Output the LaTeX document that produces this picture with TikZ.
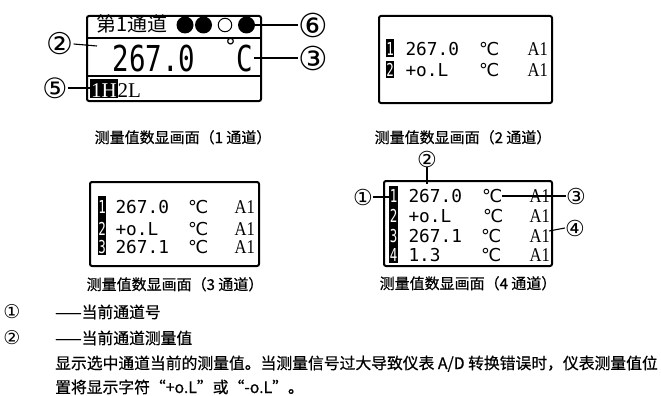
\documentclass[tikz,border=0pt]{standalone}
\usepackage{fontspec}
\newfontfamily\cjk[FakeBold=0.6]{Noto Sans CJK SC}
\newfontfamily\cjkt{Noto Sans CJK SC}
\newfontfamily\lcd{DejaVu Sans Mono}
\newfontfamily\lcdbig[FakeStretch=0.77]{DejaVu Sans Mono}
\newfontfamily\lcdinv[FakeStretch=0.7]{DejaVu Sans Mono}
\newfontfamily\lcdserif[FakeStretch=0.85]{Liberation Serif}
\newfontfamily\lserif{Liberation Serif}
\newfontfamily\dv{DejaVu Sans}
\newcommand{\fs}[1]{\fontsize{#1}{#1}\selectfont}
\begin{document}
\begin{tikzpicture}[x=1pt,y=-1pt,
  lcdbox/.style={draw, line width=2pt, rounded corners=2pt, inner sep=0, anchor=north west},
  lead/.style={line width=1.1pt},
  txt/.style={inner sep=0, anchor=base west},
  txtc/.style={inner sep=0, anchor=base},
  cnum/.style={inner sep=0, anchor=center, font=\dv\fs{#1}},
  val/.style={txt, font=\lcd\fs{17.8}},
  unit/.style={txt, font=\dv\fs{17.8}},
  chan/.style={txt, font=\lcdserif\fs{19.5}},
  inv/.style={txtc, font=\lcdinv\fs{17.8}, text=white},
  captxt/.style={txtc, font=\cjk\fs{15}},
  body/.style={txt, font=\cjk\fs{15.8}},
  dotc/.style={circle, inner sep=0, minimum size=17pt, fill=black},
]
\useasboundingbox (0,0) rectangle (661,396);

% ---------- Box 1 ----------
\node[lcdbox, minimum width=174pt, minimum height=85pt] (b1) at (86,15) {};
\draw[line width=1.5pt] (86,38) -- (260,38);
\draw[line width=1.5pt] (86,76) -- (260,76);
\node[txt, font=\cjkt\fs{20}] (b1title) at (96,32) {第1通道};
\node[dotc] (c1) at (185,25) {};
\node[dotc] (c2) at (203.5,25) {};
\node[circle, inner sep=0, minimum size=13.5pt, draw, line width=1pt] (c3) at (225,25) {};
\node[dotc] (c4) at (246.5,25) {};
\node[txt, font=\lcdbig\fs{35.7}] (b1val) at (112.5,71) {267.0};
\node[txt] (b1c) at (225,71) {\raisebox{17pt}{\dv\fs{22}°}{\lcdbig\fs{35.7}C}};
\fill (90,79) rectangle (118,97.5);
\node[txt, font=\lserif\fs{21}, text=white] (b1h) at (91,97) {1H};
\node[txt, font=\lserif\fs{21}] (b1l) at (117.5,97) {2L};

\node[cnum=30] (L2a) at (60,44) {②};
\node[cnum=33] (L3a) at (313,58) {③};
\node[cnum=28] (L5a) at (55,88) {⑤};
\node[cnum=33] (L6a) at (313,25) {⑥};
\coordinate (p2a) at (97,46);
\coordinate (p3a) at (254,58);
\coordinate (p5a) at (90,88);
\draw[lead] (L2a.east) -- (p2a);
\draw[lead] (p3a) -- (L3a.west);
\draw[lead] (L5a.east) -- (p5a);
\draw[lead] (c4.east) -- (L6a.west);
\node[captxt] (cap1) at (183,143) {测量值数显画面（1 通道）};

% ---------- Box 2 ----------
\node[lcdbox, minimum width=173pt, minimum height=87pt] (b2) at (378,15) {};
\fill (386,39) rectangle (394,57);
\fill (386,61) rectangle (394,78);
\node[inv] (b2i1) at (390,55.5) {1};
\node[inv] (b2i2) at (390,77) {2};
\node[val] (b2v1) at (405.3,55.5) {267.0};
\node[val] (b2v2) at (405.3,77) {+o.L};
\node[unit] (b2u1) at (479,55.5) {°\kern-1.5pt C};
\node[unit] (b2u2) at (479,77) {°\kern-1.5pt C};
\node[chan] (b2a1) at (527.5,55.5) {A1};
\node[chan] (b2a2) at (527.5,77) {A1};
\node[captxt] (cap2) at (463,143) {测量值数显画面（2 通道）};

% ---------- Box 3 ----------
\node[lcdbox, minimum width=169pt, minimum height=84pt] (b3) at (89,181) {};
\fill (98,196) rectangle (106,255);
\node[inv] (b3i1) at (102,213) {1};
\node[inv] (b3i2) at (102,235) {2};
\node[inv] (b3i3) at (102,253) {3};
\node[val] (b3v1) at (115.3,213) {267.0};
\node[val] (b3v2) at (115.3,235) {+o.L};
\node[val] (b3v3) at (115.3,253) {267.1};
\node[unit] (b3u1) at (188,213) {°\kern-1.5pt C};
\node[unit] (b3u2) at (188,235) {°\kern-1.5pt C};
\node[unit] (b3u3) at (188,253) {°\kern-1.5pt C};
\node[chan] (b3a1) at (234.5,213) {A1};
\node[chan] (b3a2) at (234.5,235) {A1};
\node[chan] (b3a3) at (234.5,253) {A1};
\node[captxt] (cap3) at (175,290) {测量值数显画面（3 通道）};

% ---------- Box 4 ----------
\node[lcdbox, minimum width=168pt, minimum height=85pt] (b4) at (383,180) {};
\fill (389,186) rectangle (398,263);
\node[inv] (b4i1) at (393.5,202) {1};
\node[inv] (b4i2) at (393.5,222) {2};
\node[inv] (b4i3) at (393.5,242) {3};
\node[inv] (b4i4) at (393.5,261) {4};
\node[val] (b4v1) at (408.3,202) {267.0};
\node[val] (b4v2) at (408.3,222) {+o.L};
\node[val] (b4v3) at (408.3,242) {267.1};
\node[val] (b4v4) at (408.3,261) {1.3};
\node[unit] (b4u1) at (482,202) {°\kern-1.5pt C};
\node[unit] (b4u2) at (483,222) {°\kern-1.5pt C};
\node[unit] (b4u3) at (481,242) {°\kern-1.5pt C};
\node[unit] (b4u4) at (481,261) {°\kern-1.5pt C};
\node[chan] (b4a1) at (529.5,202) {A1};
\node[chan] (b4a2) at (529.5,222) {A1};
\node[chan] (b4a3) at (529.5,242) {A1};
\node[chan] (b4a4) at (529.5,261) {A1};

\node[cnum=22] (L1b) at (363,197) {①};
\node[cnum=22] (L2b) at (427,159) {②};
\node[cnum=22] (L3b) at (576,196) {③};
\node[cnum=22] (L4b) at (575,228) {④};
\coordinate (p1b) at (389,197);
\coordinate (p2b) at (427,184);
\coordinate (p3b) at (502,196);
\coordinate (p4b) at (549,231);
\draw[lead] (L1b.east) -- (p1b);
\draw[lead] (L2b.south) -- (p2b);
\draw[lead] (p3b) -- (L3b.west);
\draw[lead] (p4b) -- (L4b.west);
\node[captxt] (cap4) at (468,289) {测量值数显画面（4 通道）};

% ---------- Legend text ----------
\node[cnum=19] (k1) at (12,312) {①};
\node[cnum=19] (k2) at (12,338) {②};
\node[body] (k1t) at (55,318) {——当前通道号};
\node[body] (k2t) at (55,344) {——当前通道测量值};
\node[body] (k3t) at (55,369) {显示选中通道当前的测量值。当测量信号过大导致仪表 A/D 转换错误时，仪表测量值位};
\node[body] (k4t) at (55,393) {置将显示字符“+o.L”或“-o.L”。};
\end{tikzpicture}
\end{document}
